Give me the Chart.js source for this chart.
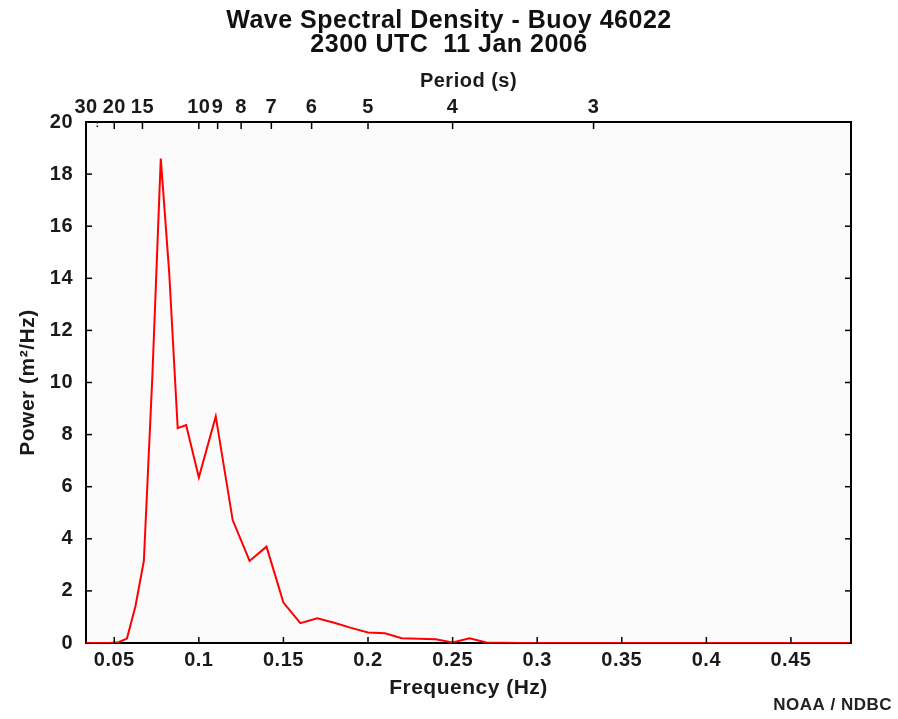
<!DOCTYPE html>
<html><head><meta charset="utf-8">
<script src="https://cdn.jsdelivr.net/npm/chart.js@4.4.1/dist/chart.umd.min.js"></script>
<style>html,body{margin:0;padding:0;background:#fff}#wrap{width:898px;height:719px}</style>
</head><body><div id="wrap"><canvas id="c" width="898" height="719"></canvas></div>
<script>
const titleLines = ['Wave Spectral Density - Buoy 46022', '2300 UTC  11 Jan 2006'];
const frequencies = [0.0325,0.0375,0.0425,0.0475,0.0525,0.0575,0.0625,0.0675,0.0725,0.0775,0.0825,0.0875,0.0925,0.1000,0.1100,0.1200,0.1300,0.1400,0.1500,0.1600,0.1700,0.1800,0.1900,0.2000,0.2100,0.2200,0.2300,0.2400,0.2500,0.2600,0.2700,0.2800,0.2900,0.3000,0.3100,0.3200,0.3300,0.3400,0.3500,0.3650,0.3850,0.4050,0.4250,0.4450,0.4650,0.4850];
const power = [0,0,0,0,0.03,0.17,1.4,3.15,10.2,18.6,14.2,8.25,8.37,6.35,8.7,4.72,3.15,3.7,1.55,0.76,0.95,0.78,0.58,0.4,0.37,0.18,0.16,0.14,0.02,0.18,0.02,0.01,0,0,0,0,0,0,0,0,0,0,0,0,0,0];
const freqTicks = [0.05,0.1,0.15,0.2,0.25,0.3,0.35,0.4,0.45];
const freqTickLabels = ['0.05','0.1','0.15','0.2','0.25','0.3','0.35','0.4','0.45'];
const periodTicks = [30,25,20,15,10,9,8,7,6,5,4,3];
const periodTickLabels = ['30','','20','15','10','9','8','7','6','5','4','3'];
const powerTicks = [0,2,4,6,8,10,12,14,16,18,20];

const X_MIN = 0.0333, X_MAX = 0.4855;
Chart.defaults.font.family = '"Liberation Sans", Arial, Helvetica, sans-serif';
Chart.defaults.color = '#1a1a1a';

function spacing(chart) { try { chart.ctx.letterSpacing = '0.5px'; } catch (e) {} }
const bgPlugin = {
  id: 'bg',
  beforeUpdate(chart) { spacing(chart); },
  beforeDraw(chart) {
    spacing(chart);
    const {ctx, chartArea: a} = chart;
    ctx.save(); ctx.fillStyle = '#fbfbfb';
    ctx.fillRect(a.left, a.top, a.right - a.left, a.bottom - a.top);
    ctx.restore();
  }
};
const inwardTicks = {
  id: 'inwardTicks',
  afterDatasetsDraw(chart) {
    const {ctx, chartArea: a, scales} = chart;
    ctx.save(); ctx.strokeStyle = '#000'; ctx.lineWidth = 1.5;
    scales.x.ticks.forEach(t => {
      const px = scales.x.getPixelForValue(t.value);
      ctx.beginPath(); ctx.moveTo(px, a.bottom); ctx.lineTo(px, a.bottom - 6); ctx.stroke();
    });
    scales.x2.ticks.forEach((t, i) => {
      const px = scales.x2.getPixelForValue(t.value);
      if (px < a.left + 2) return;
      ctx.setLineDash(periodTickLabels[i] === '' ? [1.5, 2] : []);
      ctx.beginPath(); ctx.moveTo(px, a.top); ctx.lineTo(px, a.top + 7); ctx.stroke();
    });
    ctx.setLineDash([]);
    scales.y.ticks.forEach(t => {
      if (t.value <= 0 || t.value >= 20) return;
      const py = scales.y.getPixelForValue(t.value);
      ctx.beginPath(); ctx.moveTo(a.left, py); ctx.lineTo(a.left + 6, py); ctx.stroke();
      ctx.beginPath(); ctx.moveTo(a.right, py); ctx.lineTo(a.right - 6, py); ctx.stroke();
    });
    ctx.restore();
  }
};

const tickFont = {size: 20, weight: 'bold', lineHeight: 1.2};
const border = {display: true, color: '#000', width: 2};

new Chart(document.getElementById('c'), {
  type: 'line',
  data: {
    datasets: [{
      data: frequencies.map((f, i) => ({x: f, y: power[i]})),
      borderColor: '#ff0000',
      borderWidth: 2,
      pointRadius: 0,
      tension: 0,
      fill: false
    }]
  },
  options: {
    responsive: false,
    animation: false,
    devicePixelRatio: 1,
    layout: {padding: {left: 6, right: 6, top: 0, bottom: 0}},
    plugins: {
      legend: {display: false},
      tooltip: {enabled: false},
      title: {
        display: true, text: titleLines, color: '#111',
        font: {size: 25, weight: 'bold', lineHeight: '24px'},
        padding: {top: 9, bottom: 0}
      },
      subtitle: {
        display: true, position: 'bottom', align: 'end', text: 'NOAA / NDBC', color: '#222',
        font: {size: 17, weight: 'bold', lineHeight: '12px'},
        padding: {top: 0, bottom: 8}
      }
    },
    scales: {
      x: {
        type: 'linear', position: 'bottom', min: X_MIN, max: X_MAX,
        afterBuildTicks: s => { s.ticks = freqTicks.map(v => ({value: v})); },
        afterFit: s => { s.height = 56; },
        ticks: {callback: (v, i) => freqTickLabels[i], autoSkip: false, maxRotation: 0, font: tickFont, padding: 5},
        grid: {display: false, drawTicks: false},
        border: border,
        title: {display: true, text: 'Frequency (Hz)', font: {size: 21, weight: 'bold', lineHeight: '20px'}, padding: {top: 0, bottom: 1}}
      },
      x2: {
        type: 'linear', position: 'top', min: X_MIN, max: X_MAX,
        afterBuildTicks: s => { s.ticks = periodTicks.map(p => ({value: 1 / p})); },
        afterFit: s => { s.height = 65; },
        ticks: {callback: (v, i) => periodTickLabels[i], autoSkip: false, maxRotation: 0, font: tickFont, padding: 3},
        grid: {display: false, drawTicks: false},
        border: border,
        title: {display: true, text: 'Period (s)', font: {size: 20, weight: 'bold', lineHeight: '20px'}, padding: {top: 14.7, bottom: 0}}
      },
      y: {
        type: 'linear', position: 'left', min: 0, max: 20,
        afterBuildTicks: s => { s.ticks = powerTicks.map(v => ({value: v})); },
        afterFit: s => { s.width = 80; },
        ticks: {font: tickFont, padding: 13},
        grid: {display: false, drawTicks: false},
        border: border,
        title: {display: true, text: 'Power (m²/Hz)', font: {size: 21, weight: 'bold', lineHeight: 1.2}, padding: {top: 9.4, bottom: 0}}
      },
      y2: {
        type: 'linear', position: 'right', min: 0, max: 20,
        afterBuildTicks: s => { s.ticks = powerTicks.map(v => ({value: v})); },
        afterFit: s => { s.width = 41; },
        ticks: {display: false},
        grid: {display: false, drawTicks: false},
        border: border
      }
    }
  },
  plugins: [bgPlugin, inwardTicks]
});
</script></body></html>
